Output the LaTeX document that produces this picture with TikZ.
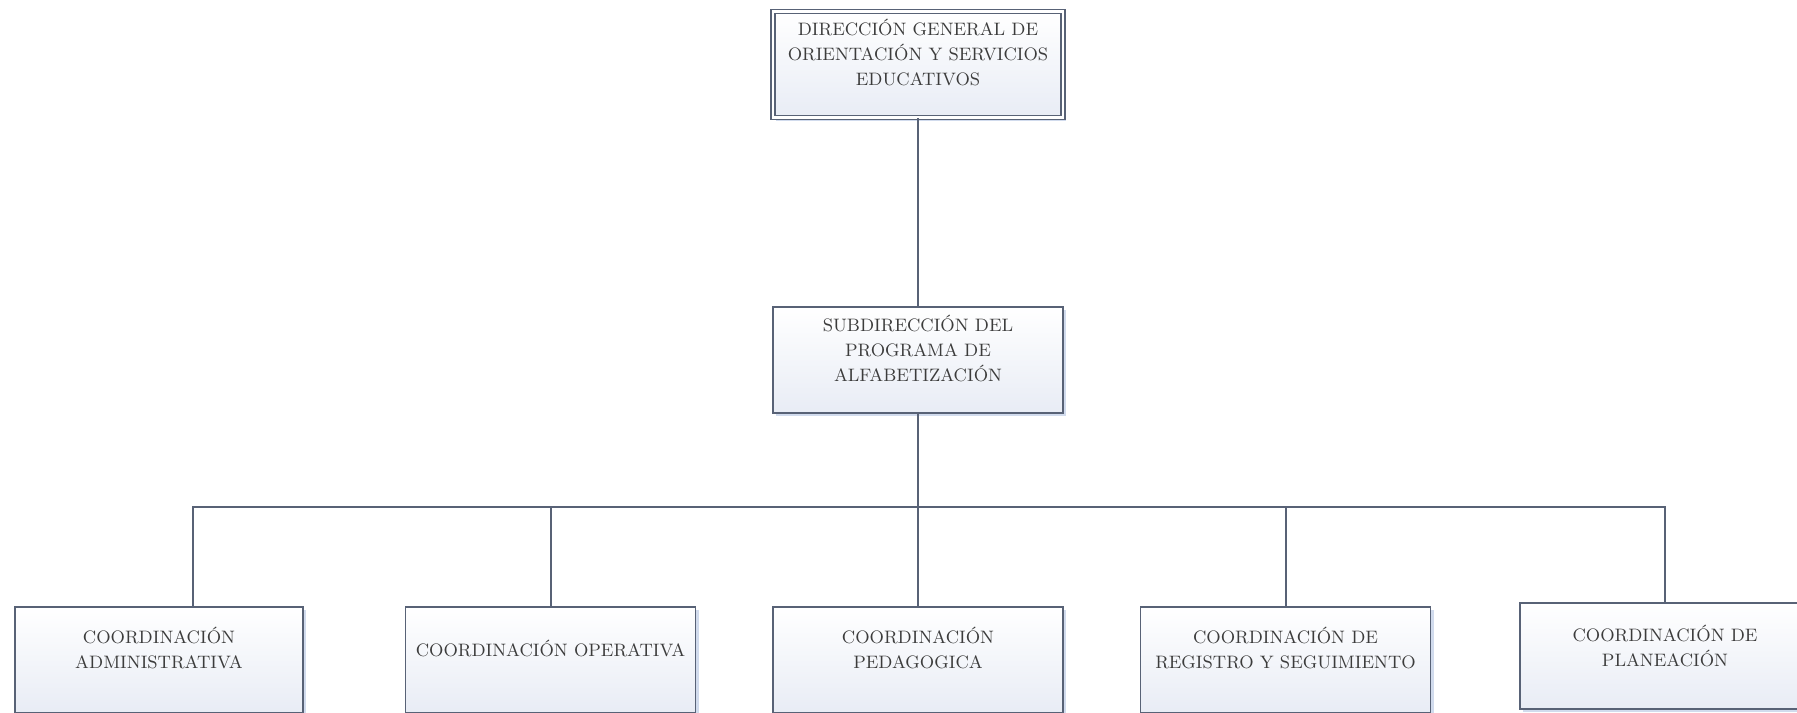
\documentclass[tikz,border=0pt]{standalone}
\usetikzlibrary{shadows}
\definecolor{boxline}{RGB}{88,98,118}
\definecolor{boxfill}{RGB}{232,236,245}
\definecolor{boxshade}{RGB}{190,205,230}
\definecolor{orgink}{RGB}{60,60,60}
\tikzset{
	orgbox/.style={draw=boxline,line width=.9pt,top color=white,bottom color=boxfill,
		minimum width=145pt,minimum height=53pt,inner sep=0pt,
		drop shadow={shadow xshift=1.5pt,shadow yshift=-1.5pt,fill=boxshade,opacity=.7}},
	orgtext/.style={align=center,text=orgink,font=\fontsize{9}{12.5}\selectfont,yshift=6pt},
	link/.style={draw=boxline,line width=1pt}
}
\begin{document}
\begin{tikzpicture}[x=.5pt,y=-.5pt]
	\useasboundingbox[fill=white](0,0)rectangle(1797,712);
	% top levels
	\node[orgbox,double=white,double distance=1.4pt,line width=.7pt,
		label={[orgtext]center:DIRECCIÓN GENERAL DE\\ORIENTACIÓN Y SERVICIOS\\EDUCATIVOS}](dg)at(918,64.5){};
	\node[orgbox,label={[orgtext]center:SUBDIRECCIÓN DEL\\PROGRAMA DE\\ALFABETIZACIÓN}](sub)at(918,360){};
	% coordinations
	\node[orgbox,minimum width=144pt,label={[orgtext]center:COORDINACIÓN\\ADMINISTRATIVA}](admin)at(159,660){};
	\node[orgbox,label={[orgtext]center:COORDINACIÓN OPERATIVA}](oper)at(550.5,660){};
	\node[orgbox,label={[orgtext]center:COORDINACIÓN\\PEDAGOGICA}](ped)at(918,660){};
	\node[orgbox,label={[orgtext]center:COORDINACIÓN DE\\REGISTRO Y SEGUIMIENTO}](reg)at(1285.5,660){};
	\node[orgbox,label={[orgtext,yshift=-1pt]center:COORDINACIÓN DE\\PLANEACIÓN}](plan)at(1665,656){};
	% links
	\coordinate(bus)at(918,507);
	\draw[link](dg)--(sub);
	\draw[link](sub)--(bus);
	\foreach \c/\s in{admin/17pt,oper/0pt,ped/0pt,reg/0pt,plan/0pt}{
		\draw[link](bus)-|([xshift=\s]\c.north);
	}
\end{tikzpicture}
\end{document}
